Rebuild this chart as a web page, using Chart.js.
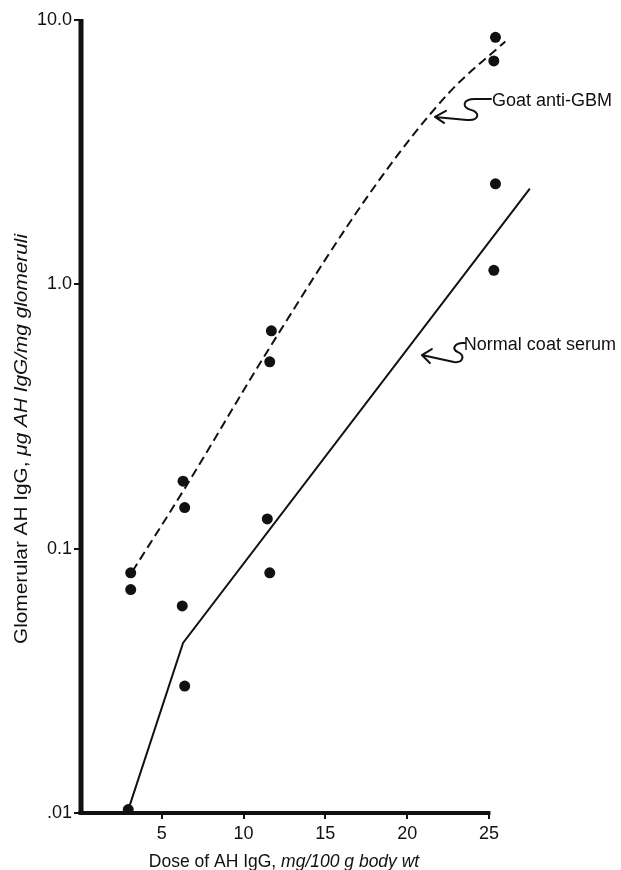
<!DOCTYPE html>
<html>
<head>
<meta charset="utf-8">
<script src="https://cdn.jsdelivr.net/npm/chart.js@4.4.1/dist/chart.umd.min.js"></script>
<style>
    html, body { margin: 0; padding: 0; background: #fff; }
    #wrap { width: 621px; height: 870px; }
</style>
</head>
<body>
<div id="wrap"><canvas id="chart" width="621" height="870"></canvas></div>
<script>
// tick values and labels
const xTicks = [5, 10, 15, 20, 25];
const yTicks = [0.01, 0.1, 1, 10];
const yTickLabels = [".01", "0.1", "1.0", "10.0"];

// measured points (dose mg/100 g, glomerular AH IgG ug/mg)
const goatDose = [3.1, 3.1, 6.3, 6.4, 11.7, 11.6, 25.4, 25.3];
const goatIgG = [0.081, 0.070, 0.18, 0.143, 0.667, 0.509, 8.6, 7.0];
const normalDose = [2.95, 6.25, 6.4, 11.45, 11.6, 25.4, 25.3];
const normalIgG = [0.0103, 0.0607, 0.0302, 0.1296, 0.081, 2.4, 1.13];

// drawn curves
const goatCurveDose = [3.2, 6.3, 11.7, 18, 22.5, 26.0];
const goatCurveIgG = [0.082, 0.165, 0.59, 2.34, 5.26, 8.3];
const normalCurveDose = [3.0, 6.3, 27.5];
const normalCurveIgG = [0.0105, 0.044, 2.3];

const FONT = "'Liberation Sans', Arial, Helvetica, sans-serif";

function toXY(xs, ys) {
    return xs.map((x, i) => ({ x: x, y: ys[i] }));
}

const axesAndLabels = {
    id: "axesAndLabels",
    beforeDatasetsDraw(chart) {
        const ctx = chart.ctx;
        const xS = chart.scales.x;
        const yS = chart.scales.y;
        const x0 = xS.getPixelForValue(0);
        const x25 = xS.getPixelForValue(25);
        const yTop = yS.getPixelForValue(10);
        const yBot = yS.getPixelForValue(0.01);
        ctx.save();
        ctx.fillStyle = "#111";
        // y axis (thick)
        ctx.fillRect(x0 - 1.5, yTop - 1, 5, yBot - yTop + 2);
        // x axis
        ctx.fillRect(x0 - 1.5, yBot - 2, x25 - x0 + 3, 4);
        ctx.restore();
    },
    afterDraw(chart) {
        const ctx = chart.ctx;
        const xS = chart.scales.x;
        const yS = chart.scales.y;
        ctx.save();
        ctx.fillStyle = "#111";
        ctx.strokeStyle = "#111";

        // x title
        const xA = "Dose of AH IgG, ";
        const xB = "mg/100 g body wt";
        ctx.font = "17.5px " + FONT;
        const wA = ctx.measureText(xA).width;
        ctx.font = "italic 17.5px " + FONT;
        const wB = ctx.measureText(xB).width;
        let sx = 284 - (wA + wB) / 2;
        ctx.textBaseline = "alphabetic";
        ctx.textAlign = "left";
        ctx.font = "17.5px " + FONT;
        ctx.fillText(xA, sx, 867);
        ctx.font = "italic 17.5px " + FONT;
        ctx.fillText(xB, sx + wA, 867);

        // y title, rotated
        const yA = "Glomerular AH IgG, ";
        const yB = "\u03bcg AH IgG/mg glomeruli";
        ctx.font = "18px " + FONT;
        const vA = ctx.measureText(yA).width;
        ctx.font = "italic 18px " + FONT;
        const vB = ctx.measureText(yB).width;
        const target = 410;
        const stretch = target / (vA + vB);
        ctx.translate(27, 439);
        ctx.rotate(-Math.PI / 2);
        ctx.scale(stretch, 1);
        ctx.font = "18px " + FONT;
        ctx.fillText(yA, -(vA + vB) / 2, 0);
        ctx.font = "italic 18px " + FONT;
        ctx.fillText(yB, -(vA + vB) / 2 + vA, 0);
        ctx.restore();

        // curve labels with squiggly arrows
        ctx.save();
        ctx.strokeStyle = "#111";
        ctx.fillStyle = "#111";
        ctx.lineWidth = 2;
        ctx.lineCap = "round";
        ctx.lineJoin = "round";
        ctx.font = "18px " + FONT;
        ctx.textBaseline = "middle";

        // Goat anti-GBM
        let tx = xS.getPixelForValue(21.7);
        let ty = yS.getPixelForValue(4.3);
        ctx.beginPath();
        ctx.moveTo(tx + 56, ty - 18);
        ctx.lineTo(tx + 40, ty - 18);
        ctx.bezierCurveTo(tx + 27, ty - 18, tx + 27, ty - 9, tx + 36, ty - 7);
        ctx.bezierCurveTo(tx + 45, ty - 5, tx + 45, ty + 4, tx + 32, ty + 3);
        ctx.lineTo(tx, ty);
        ctx.moveTo(tx + 11, ty - 6);
        ctx.lineTo(tx, ty);
        ctx.lineTo(tx + 9, ty + 6);
        ctx.stroke();
        ctx.fillText("Goat anti-GBM", tx + 57, ty - 16);

        // Normal coat serum
        tx = xS.getPixelForValue(20.9);
        ty = yS.getPixelForValue(0.54);
        ctx.beginPath();
        ctx.moveTo(tx + 43, ty - 12);
        ctx.bezierCurveTo(tx + 33, ty - 13, tx + 29, ty - 6, tx + 36, ty - 3);
        ctx.bezierCurveTo(tx + 43, ty, tx + 42, ty + 8, tx + 32, ty + 7);
        ctx.lineTo(tx, ty);
        ctx.moveTo(tx + 10, ty - 6);
        ctx.lineTo(tx, ty);
        ctx.lineTo(tx + 8, ty + 8);
        ctx.stroke();
        ctx.fillText("Normal coat serum", tx + 42, ty - 10);
        ctx.restore();
    }
};

new Chart(document.getElementById("chart"), {
    type: "scatter",
    data: {
        datasets: [
            {
                label: "Goat anti-GBM fit",
                data: toXY(goatCurveDose, goatCurveIgG),
                showLine: true,
                pointRadius: 0,
                borderColor: "#111",
                borderWidth: 2,
                borderDash: [9, 5],
                cubicInterpolationMode: "monotone",
                clip: false
            },
            {
                label: "Normal goat serum fit",
                data: toXY(normalCurveDose, normalCurveIgG),
                showLine: true,
                pointRadius: 0,
                borderColor: "#111",
                borderWidth: 2,
                tension: 0,
                clip: false
            },
            {
                label: "Goat anti-GBM",
                data: toXY(goatDose, goatIgG),
                pointRadius: 5.5,
                pointBackgroundColor: "#111",
                pointBorderWidth: 0,
                clip: false
            },
            {
                label: "Normal goat serum",
                data: toXY(normalDose, normalIgG),
                pointRadius: 5.5,
                pointBackgroundColor: "#111",
                pointBorderWidth: 0,
                clip: false
            }
        ]
    },
    options: {
        responsive: false,
        devicePixelRatio: 1,
        animation: false,
        layout: { padding: { left: 0, top: 20, right: 83, bottom: 0 } },
        plugins: {
            legend: { display: false },
            tooltip: { enabled: false }
        },
        scales: {
            x: {
                type: "linear",
                min: 0,
                max: 28,
                afterBuildTicks: (scale) => {
                    scale.ticks = xTicks.map(v => ({ value: v }));
                },
                afterFit: (scale) => { scale.height = 57; },
                border: { display: false },
                grid: {
                    drawOnChartArea: false,
                    drawTicks: true,
                    tickLength: 6,
                    color: "#111",
                    lineWidth: 2
                },
                ticks: {
                    color: "#111",
                    font: { family: FONT, size: 18 },
                    padding: 4,
                    maxRotation: 0,
                    callback: (v) => String(v)
                }
            },
            y: {
                type: "logarithmic",
                min: 0.01,
                max: 10,
                afterBuildTicks: (scale) => {
                    scale.ticks = yTicks.map(v => ({ value: v }));
                },
                afterFit: (scale) => { scale.width = 80; },
                border: { display: false },
                grid: {
                    drawOnChartArea: false,
                    drawTicks: true,
                    tickLength: 6,
                    color: "#111",
                    lineWidth: 2
                },
                ticks: {
                    color: "#111",
                    font: { family: FONT, size: 18 },
                    padding: 2,
                    callback: (v) => {
                        const i = yTicks.indexOf(v);
                        return i >= 0 ? yTickLabels[i] : "";
                    }
                }
            }
        }
    },
    plugins: [axesAndLabels]
});
</script>
</body>
</html>
